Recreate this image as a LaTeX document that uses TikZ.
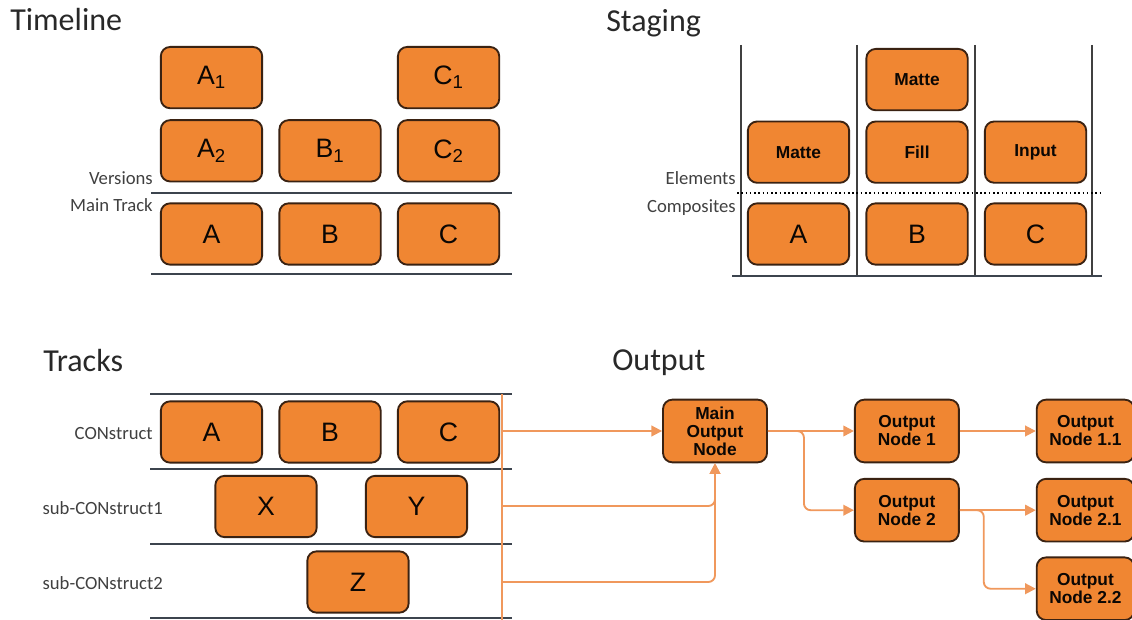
\documentclass[tikz,border=0pt]{standalone}
\usepackage{xcolor}
\usepackage{fontspec}
\setmainfont{Liberation Sans}
\newfontfamily\calibri{Carlito}
\usepackage{tikz}
\usetikzlibrary{arrows.meta,positioning}

\definecolor{boxfill}{RGB}{240,134,50}
\definecolor{boxline}{RGB}{58,34,18}
\definecolor{flowline}{RGB}{240,152,92}
\definecolor{trackline}{RGB}{60,68,78}
\definecolor{titlegray}{RGB}{40,40,40}
\definecolor{labelgray}{RGB}{64,64,64}

\begin{document}
\begin{tikzpicture}[
    x=0.75pt, y=-0.75pt,
    node distance=11.5pt,
    stagebox/.style={rectangle, draw=boxline, fill=boxfill, line width=1.4pt, rounded corners=7pt, minimum width=76pt, minimum height=46pt, inner sep=0pt, text=black!80!boxline, font=\fontsize{20}{20}\selectfont},
    smallbox/.style={stagebox, font=\bfseries\fontsize{13}{13}\selectfont},
    outbox/.style={stagebox, minimum width=78pt, minimum height=47pt, align=center, font=\bfseries\fontsize{13}{13.5}\selectfont},
    title/.style={anchor=base west, inner sep=0pt, text=titlegray, font=\calibri\fontsize{24}{24}\selectfont},
    rowlabel/.style={anchor=base east, inner sep=0pt, text=labelgray, font=\calibri\fontsize{14}{14}\selectfont},
    track/.style={draw=trackline, line width=1.5pt},
    stage/.style={draw=black!75, line width=1.1pt},
    flow/.style={-{Triangle[length=8pt,width=8pt]}, draw=flowline, line width=1.4pt, rounded corners=5pt},
]
    \useasboundingbox (0,0) rectangle (1132,620);

    % Timeline
    \node[title] (ttl) at (10,31) {Timeline};
    \node[stagebox] (tA) at (211.5,234) {A};
    \node[stagebox, right=of tA] (tB) {B};
    \node[stagebox, right=of tB] (tC) {C};
    \node[stagebox, above=15pt of tA] (tA2) {A\textsubscript{2}};
    \node[stagebox, above=7.5pt of tA2] (tA1) {A\textsubscript{1}};
    \node[stagebox, above=15pt of tB] (tB1) {B\textsubscript{1}};
    \node[stagebox, above=15pt of tC] (tC2) {C\textsubscript{2}};
    \node[stagebox, above=7.5pt of tC2] (tC1) {C\textsubscript{1}};
    \draw[track] (151,193) -- (512,193);
    \draw[track] (151,274) -- (512,274);
    \node[rowlabel] (lver) at (153,185) {Versions};
    \node[rowlabel] (lmain) at (153,212) {Main Track};

    % Staging
    \node[title] (stl) at (606,32) {Staging};
    \foreach \x in {741,857,975,1092}
        \draw[stage] (\x,45) -- (\x,276);
    \draw[track] (732,276) -- (1102,276);
    \draw[dotted, line width=1.2pt] (737,193) -- (1102,193);
    \node[stagebox] (sA) at (798.5,234) {A};
    \node[stagebox, right=of sA] (sB) {B};
    \node[stagebox, right=of sB] (sC) {C};
    \node[smallbox, above=14pt of sA] (sAm) {Matte};
    \node[smallbox, above=14pt of sB] (sBf) {Fill};
    \node[smallbox, above=7pt of sBf] (sBm) {Matte};
    \node[smallbox, above=14pt of sC] (sCi) {Input};
    \node[rowlabel] (lel) at (736,185) {Elements};
    \node[rowlabel] (lcomp) at (736,213) {Composites};

    % Tracks
    \node[title] (trl) at (43,372) {Tracks};
    \foreach \y in {394,469,544,618}
        \draw[track] (150,\y) -- (512,\y);
    \draw[draw=flowline, line width=1.4pt] (502,394) -- (502,620);
    \node[stagebox] (kA) at (211.5,432) {A};
    \node[stagebox, right=of kA] (kB) {B};
    \node[stagebox, right=of kB] (kC) {C};
    \node[stagebox] (kX) at (266,506.5) {X};
    \node[stagebox] (kY) at (416.5,506.5) {Y};
    \node[stagebox] (kZ) at (358,582) {Z};
    \node[rowlabel] (lcon) at (153,439) {CONstruct};
    \node[rowlabel] (lsub1) at (163,514) {sub-CONstruct1};
    \node[rowlabel] (lsub2) at (163,589) {sub-CONstruct2};
    \coordinate (r1) at (502,431);
    \coordinate (r2) at (502,506);
    \coordinate (r3) at (502,582);

    % Output
    \node[title] (otl) at (612,371) {Output};
    \node[outbox] (main) at (715,431) {Main\\Output\\Node};
    \node[outbox, right=64.5pt of main] (o1) {Output\\Node 1};
    \node[outbox, below=11pt of o1] (o2) {Output\\Node 2};
    \node[outbox, minimum width=73pt, right=57pt of o1] (o11) {Output\\Node 1.1};
    \node[outbox, minimum width=73pt, right=57pt of o2] (o21) {Output\\Node 2.1};
    \node[outbox, minimum width=73pt, below=10.5pt of o21] (o22) {Output\\Node 2.2};

    \draw[flow] (r1) -- (main.west);
    \draw[flow] (r2) -| (main.south);
    \draw[flow] (r3) -| (main.south);
    \draw[flow] (main.east) -- (o1.west);
    \draw[flow] (main.east) -- ++(36,0) |- (o2.west);
    \draw[flow] (o1.east) -- (o11.west);
    \draw[flow] (o2.east) -- (o21.west);
    \draw[flow] (o2.east) -- ++(24,0) |- (o22.west);
\end{tikzpicture}
\end{document}
